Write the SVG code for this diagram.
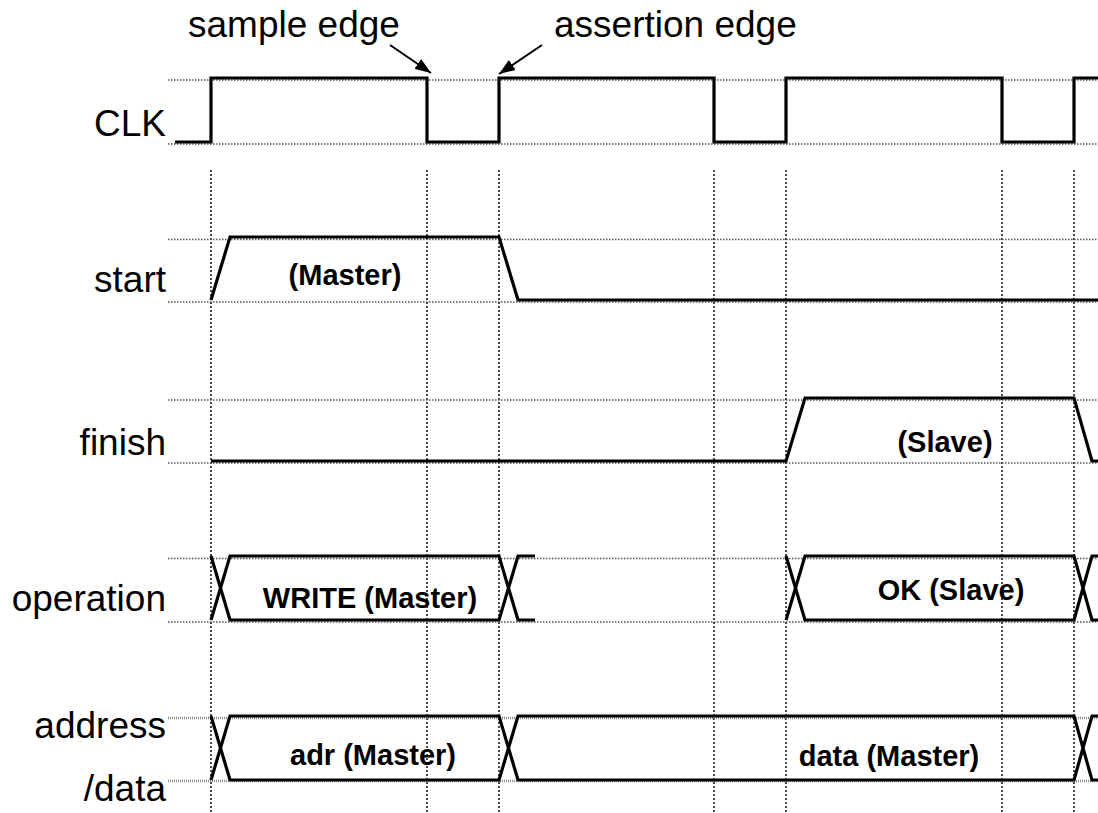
<svg xmlns="http://www.w3.org/2000/svg" width="1098" height="813" viewBox="0 0 1098 813">
  <style>
    .lbl { font-family: "Liberation Sans", Arial, sans-serif; font-size: 37px; fill: #000; }
    .val { font-family: "Liberation Sans", Arial, sans-serif; font-size: 29px; font-weight: bold; fill: #000; }
    .grid-h { stroke: #555; stroke-width: 1.6; stroke-dasharray: 1.5 1.5; fill: none; }
    .grid-h2 { stroke: #8c8c8c; stroke-width: 2.6; stroke-dasharray: 1 1; fill: none; }
    .grid-v { stroke: #333; stroke-width: 1.8; stroke-dasharray: 2 2; fill: none; }
    .sig { stroke: #000; stroke-width: 3.2; fill: none; stroke-linejoin: miter; }
    .ann { stroke: #000; stroke-width: 2; fill: none; }
  </style>
  <defs>
    <marker id="arrowHead" viewBox="0 0 16 12" refX="16" refY="6" markerWidth="16" markerHeight="12" markerUnits="userSpaceOnUse" orient="auto">
      <path d="M0,0 L16,6 L0,12 z" fill="#000"/>
    </marker>
  </defs>

  <rect width="1098" height="813" fill="#fff"/>

  <!-- timing grid: clock edge markers -->
  <g id="grid">
    <path class="grid-v" d="M211,170 V813 M427,170 V813 M499,170 V813 M714,170 V813 M786,170 V813 M1002,170 V813 M1074,170 V813"/>
    <path class="grid-h" d="M168,80 H1098 M168,144 H1098"/>
    <path class="grid-h" d="M168,239.5 H1098 M168,302 H1098"/>
    <path class="grid-h" d="M168,400 H1098 M168,463 H1098"/>
    <path class="grid-h" d="M168,558.5 H1098 M168,622 H1098"/>
    <path class="grid-h2" d="M168,718 H1098 M168,781 H1098"/>
  </g>

  <!-- edge annotations -->
  <g id="annotations">
    <text class="lbl" x="188" y="37">sample edge</text>
    <text class="lbl" x="554" y="37">assertion edge</text>
    <path class="ann" d="M390,45 L431,73" marker-end="url(#arrowHead)"/>
    <path class="ann" d="M542,45 L499,74" marker-end="url(#arrowHead)"/>
  </g>

  <g id="clk">
    <text class="lbl" x="166" y="136" text-anchor="end">CLK</text>
    <path class="sig" d="M175,142 H211 V78 H427 V142 H499 V78 H714 V142 H786 V78 H1002 V142 H1074 V78 H1098"/>
  </g>

  <g id="start">
    <text class="lbl" x="166" y="292" text-anchor="end">start</text>
    <path class="sig" d="M211,300 L230,237 H499 L518,300 H1098"/>
    <text class="val" x="345" y="285" text-anchor="middle">(Master)</text>
  </g>

  <g id="finish">
    <text class="lbl" x="166" y="455" text-anchor="end">finish</text>
    <path class="sig" d="M211,461 H786 L805,398 H1074 L1092,461 H1098"/>
    <text class="val" x="945" y="452" text-anchor="middle">(Slave)</text>
  </g>

  <g id="operation">
    <text class="lbl" x="166" y="611" text-anchor="end">operation</text>
    <path class="sig" d="M211,556 L230,620 H499 L518,556 H535 M211,620 L230,556 H499 L518,620 H535"/>
    <path class="sig" d="M786,556 L805,620 H1074 L1092,556 H1098 M786,620 L805,556 H1074 L1092,620 H1098"/>
    <text class="val" x="370" y="608" text-anchor="middle">WRITE (Master)</text>
    <text class="val" x="951" y="600" text-anchor="middle">OK (Slave)</text>
  </g>

  <g id="address-data">
    <text class="lbl" x="166" y="738" text-anchor="end">address</text>
    <text class="lbl" x="166" y="801" text-anchor="end">/data</text>
    <path class="sig" d="M211,716 L230,780 H499 L518,716 H1074 L1092,780 H1098 M211,780 L230,716 H499 L518,780 H1074 L1092,716 H1098"/>
    <text class="val" x="373" y="765" text-anchor="middle">adr (Master)</text>
    <text class="val" x="889" y="766" text-anchor="middle">data (Master)</text>
  </g>
</svg>
